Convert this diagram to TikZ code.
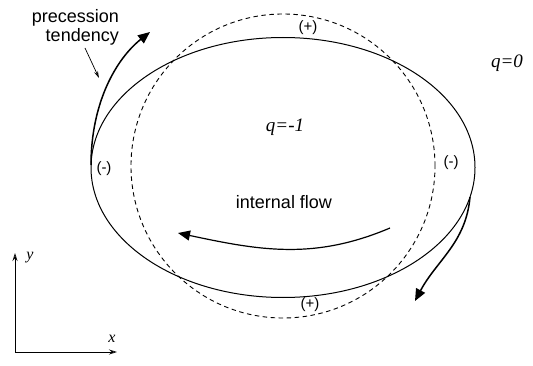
\documentclass[tikz,border=0pt]{standalone}
\usepackage{fontspec}
\setmainfont{Liberation Serif}
\setsansfont{Liberation Sans}
\usetikzlibrary{arrows.meta,positioning}

\begin{document}
\begin{tikzpicture}[
  x=1pt, y=1pt,
  every node/.style={font=\sffamily\fontsize{18}{19}\selectfont, inner sep=1pt},
  qlabel/.style={font=\itshape\fontsize{19}{21}\selectfont},
  sign/.style={font=\sffamily\fontsize{15}{17}\selectfont},
  flow/.style={-{Triangle[length=12pt,width=10pt]}, line width=1.5pt},
  thin/.style={-{Stealth[open,length=7pt,width=4pt]}, line width=0.7pt},
  axis/.style={-{Stealth[open,length=8pt,width=5pt]}, line width=0.8pt}
]
\useasboundingbox (0,0) rectangle (533,365);

% orbit and unperturbed circle
\draw[line width=1pt] (283,197.5) ellipse [x radius=192, y radius=130];
\draw[dashed, dash pattern=on 4.5pt off 3.5pt, line width=0.9pt] (283,199) circle [radius=152];

% labels
\node[sign] (ptop) at (308,337) {(+)};
\node[sign] (pbot) at (310,60) {(+)};
\node[sign] (mleft) at (104,196) {(-)};
\node[sign] (mright) at (451,202) {(-)};
\node[qlabel] (qin) at (285,238) {q=-1};
\node[qlabel] (qout) at (507,302) {q=0};
\node (flowlbl) at (284,163) {internal flow};
\node[align=right, anchor=east] (prec) at (120,338) {precession\\tendency};

% arrows
\coordinate (pa) at (91,200);
\coordinate (pb) at (150,333);
\draw[flow] (pa) .. controls (91,262) and (116,306) .. (pb);

\coordinate (ra) at (470,168);
\coordinate (rb) at (415,64);
\draw[flow] (ra) to[out=265,in=62] (rb);

\coordinate (fa) at (390,137);
\coordinate (fb) at (178,132);
\draw[flow, line width=1.2pt] (fa) to[out=203,in=-12] (fb);

\coordinate (ts) at (85,317);
\coordinate (tp) at (99,287);
\draw[thin] (ts) -- (tp);

% axes
\coordinate (o) at (15,13);
\coordinate (ey) at (15,112);
\coordinate (ex) at (117,13);
\draw[axis] (o) -- (ey);
\draw[axis] (o) -- (ex);
\node[qlabel, font=\itshape\fontsize{16}{18}\selectfont] (ylbl) at (30,107) {y};
\node[qlabel, font=\itshape\fontsize{16}{18}\selectfont] (xlbl) at (112,26) {x};

\end{tikzpicture}
\end{document}
